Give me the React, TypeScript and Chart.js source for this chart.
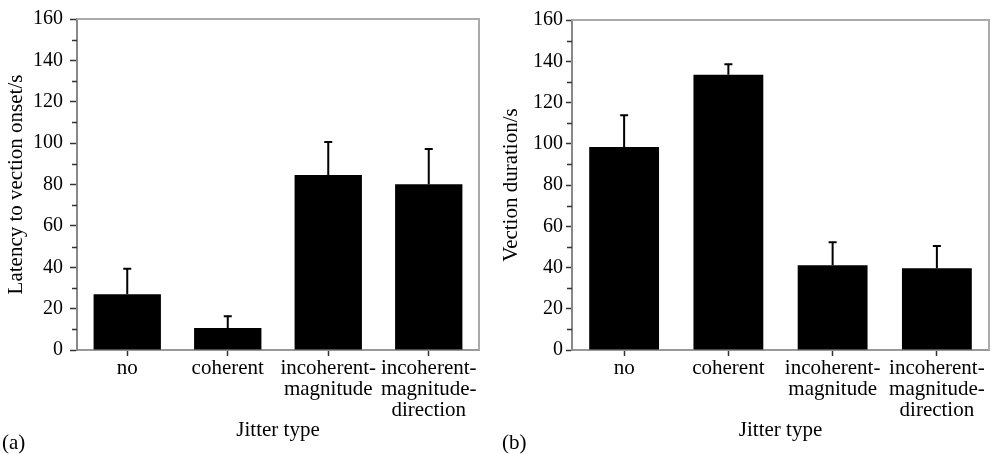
import React, { useEffect, useRef } from "react";
import { Chart, registerables } from "chart.js";

Chart.register(...registerables);

const categories: string[][] = [
  ["no"],
  ["coherent"],
  ["incoherent-", "magnitude"],
  ["incoherent-", "magnitude-", "direction"],
];
const latencyMeans = [27, 10.6, 84.6, 80.1];
const latencyErrors = [12.3, 5.7, 15.9, 17.1];
const durationMeans = [98.4, 133.5, 41.1, 39.6];
const durationErrors = [15.4, 5.0, 11.1, 10.8];
const yMin = 0;
const yMax = 160;
const yStep = 20;
const minorTicks = [10, 30, 50, 70, 90, 110, 130, 150];

const FONT = "'Liberation Serif', 'Times New Roman', serif";

type Geo = {
  width: number;
  axisWidth: number;
  padRight: number;
  padTop: number;
  tickLength: number;
  tickPadding: number;
  yTitlePad: number;
};

function makeChart(
  canvas: HTMLCanvasElement,
  means: number[],
  errors: number[],
  yTitle: string,
  panel: string,
  geo: Geo
) {
  const errorBars = {
    id: "errorBars",
    afterDatasetsDraw(chart: any) {
      const ctx = chart.ctx;
      const meta = chart.getDatasetMeta(0);
      const ys = chart.scales.y;
      ctx.save();
      ctx.strokeStyle = "#000";
      ctx.lineWidth = 2;
      meta.data.forEach((el: any, i: number) => {
        const top = ys.getPixelForValue(means[i] + errors[i]);
        ctx.beginPath();
        ctx.moveTo(el.x, el.y);
        ctx.lineTo(el.x, top);
        ctx.moveTo(el.x - 4, top);
        ctx.lineTo(el.x + 4, top);
        ctx.stroke();
      });
      ctx.restore();
    },
  };
  const frame = {
    id: "frame",
    afterDraw(chart: any) {
      const ctx = chart.ctx;
      const a = chart.chartArea;
      const ys = chart.scales.y;
      ctx.save();
      ctx.strokeStyle = "#aaa";
      ctx.lineWidth = 2;
      ctx.beginPath();
      ctx.moveTo(a.left, a.top);
      ctx.lineTo(a.right, a.top);
      ctx.lineTo(a.right, a.bottom);
      ctx.stroke();
      ctx.strokeStyle = "#333";
      ctx.lineWidth = 1.5;
      ctx.beginPath();
      minorTicks.forEach((v) => {
        const y = Math.round(ys.getPixelForValue(v)) + 0.5;
        ctx.moveTo(a.left - 5, y);
        ctx.lineTo(a.left, y);
      });
      ctx.stroke();
      ctx.fillStyle = "#000";
      ctx.font = `21px ${FONT}`;
      ctx.textAlign = "left";
      ctx.textBaseline = "middle";
      ctx.fillText(panel, 2, 443);
      ctx.restore();
    },
  };

  return new Chart(canvas, {
    type: "bar",
    data: {
      labels: categories,
      datasets: [
        {
          data: means,
          backgroundColor: "#000",
          borderWidth: 0,
          barPercentage: 0.67,
          categoryPercentage: 1,
        },
      ],
    },
    options: {
      responsive: false,
      animation: false,
      devicePixelRatio: 1,
      layout: { padding: { top: geo.padTop, right: geo.padRight, left: 0, bottom: 0 } },
      plugins: { legend: { display: false }, tooltip: { enabled: false } },
      scales: {
        x: {
          afterFit: (s: any) => {
            s.height = 104;
          },
          grid: {
            offset: false,
            drawOnChartArea: false,
            drawTicks: true,
            tickLength: 6,
            tickColor: "#333",
            tickWidth: 1.5,
          },
          border: { color: "#999", width: 2 },
          ticks: {
            color: "#000",
            padding: 1.5,
            maxRotation: 0,
            autoSkip: false,
            font: { family: FONT, size: 21, lineHeight: 1.0 },
          },
          title: {
            display: true,
            text: "Jitter type",
            color: "#000",
            font: { family: FONT, size: 21, lineHeight: 1.0 },
            padding: { top: 0, bottom: 13.5 },
          },
        },
        y: {
          min: yMin,
          max: yMax,
          afterFit: (s: any) => {
            s.width = geo.axisWidth;
          },
          grid: {
            drawOnChartArea: false,
            drawTicks: true,
            tickLength: geo.tickLength,
            tickColor: "#333",
            tickWidth: 1.5,
          },
          border: { color: "#888", width: 2 },
          ticks: {
            stepSize: yStep,
            color: "#000",
            padding: geo.tickPadding,
            font: { family: FONT, size: 20 },
          },
          title: {
            display: true,
            text: yTitle,
            color: "#000",
            font: { family: FONT, size: 21, lineHeight: 1.0 },
            padding: { top: geo.yTitlePad, bottom: 0 },
          },
        },
      },
    },
    plugins: [errorBars, frame],
  });
}

function Panel(props: {
  left: number;
  geo: Geo;
  means: number[];
  errors: number[];
  yTitle: string;
  panel: string;
}) {
  const ref = useRef<HTMLCanvasElement | null>(null);
  useEffect(() => {
    if (!ref.current) return;
    const c = makeChart(ref.current, props.means, props.errors, props.yTitle, props.panel, props.geo);
    return () => c.destroy();
  }, []);
  return (
    <div style={{ position: "absolute", left: props.left, top: 0, width: props.geo.width, height: 454 }}>
      <canvas ref={ref} width={props.geo.width} height={454} style={{ display: "block" }} />
    </div>
  );
}

export default function App() {
  return (
    <div style={{ position: "absolute", left: 0, top: 0, width: 1001, height: 454, background: "#fff" }}>
      <Panel
        left={0}
        geo={{ width: 500, axisWidth: 77, padRight: 21, padTop: 19, tickLength: 7, tickPadding: 7, yTitlePad: 5.5 }}
        means={latencyMeans}
        errors={latencyErrors}
        yTitle="Latency to vection onset/s"
        panel="(a)"
      />
      <Panel
        left={500}
        geo={{ width: 501, axisWidth: 72, padRight: 12, padTop: 20, tickLength: 6, tickPadding: 3, yTitlePad: 0.5 }}
        means={durationMeans}
        errors={durationErrors}
        yTitle="Vection duration/s"
        panel="(b)"
      />
    </div>
  );
}
